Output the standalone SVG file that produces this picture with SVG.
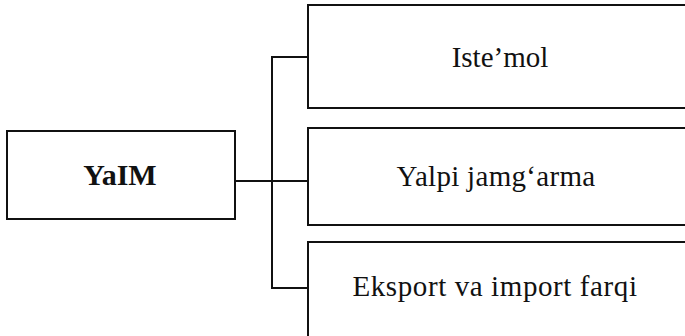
<svg xmlns="http://www.w3.org/2000/svg" width="685" height="336" viewBox="0 0 685 336">
<style>
.box{fill:#fff;stroke:#111;stroke-width:2}
.con{fill:none;stroke:#111;stroke-width:2}
text{font-family:'Liberation Serif','Times New Roman',serif;font-size:29px;fill:#111;text-anchor:middle}
.b{font-weight:bold;font-size:30px}
</style>
<rect width="685" height="336" fill="#fff"/>
<g id="connectors">
<path class="con" d="M235 181H308"/>
<path class="con" d="M308 57H272V288H308"/>
</g>
<g id="yaim">
<rect class="box" x="7" y="131" width="228" height="88"/>
<text class="b" x="120" y="185">YaIM</text>
</g>
<g id="istemol">
<rect class="box" x="308" y="5" width="390" height="103"/>
<text x="500" y="67">Iste’mol</text>
</g>
<g id="yalpi">
<rect class="box" x="308" y="128" width="390" height="97"/>
<text x="496" y="186" letter-spacing="0.3">Yalpi jamg‘arma</text>
</g>
<g id="eksport">
<rect class="box" x="308" y="242" width="390" height="110"/>
<text x="495" y="296" letter-spacing="0.6">Eksport va import farqi</text>
</g>
</svg>
